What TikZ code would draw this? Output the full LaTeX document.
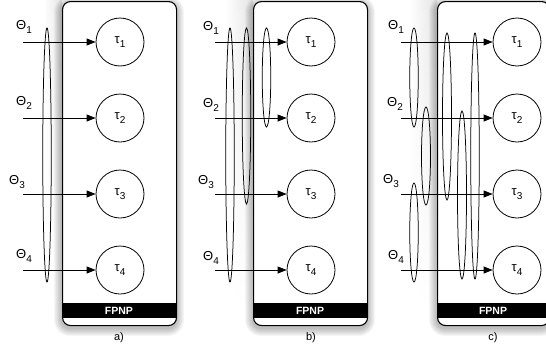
\documentclass[tikz,border=0pt]{standalone}
\usepackage{fontspec}
\setmainfont{Liberation Sans}
\usetikzlibrary{arrows.meta,shapes.geometric,fadings}
\tikzfading[name=fadelow, top color=transparent!0, bottom color=transparent!100]
\newcommand\mylbl[2]{#1\raisebox{-0.35em}{\fontsize{10pt}{11pt}\selectfont #2}}
\begin{document}
\begin{tikzpicture}[x=1pt,y=-1pt,
  panel/.style={draw=black, line width=1.1pt, fill=white, rounded corners=8pt, minimum width=114pt, minimum height=324pt, anchor=north west, inner sep=0pt},
  bar/.style={fill=black, text=white, minimum width=114pt, minimum height=15pt, inner sep=0pt, font=\fontsize{10.5}{11}\selectfont\bfseries},
  task/.style={circle, draw, line width=0.8pt, minimum size=48pt, inner sep=0pt, font=\fontsize{13}{15}\selectfont},
  par/.style={font=\fontsize{13}{15}\selectfont, inner sep=0pt},
  flow/.style={-{Triangle[length=9pt,width=7pt]}, line width=0.8pt},
  grp/.style={ellipse, draw, line width=0.75pt, inner sep=0pt},
  caption/.style={font=\fontsize{11}{13}\selectfont, inner sep=0pt},
  shadowlayer/.style={fill=black, opacity=0.035}
]
\useasboundingbox (0,0) rectangle (546,351);

% ---------- shadows ----------
\foreach \L/\W/\G in {62/114/18, 253/114/28, 437/112/28} {
  \shade[left color=white, right color=black!11, path fading=fadelow] (\L-\G,0) rectangle (\L,310);
  \foreach \k in {1,...,8} {
    \fill[shadowlayer, rounded corners=8+\k] (\L-\k,1-\k+3) rectangle (\L+\W+\k,325+\k+3);
  }
}

% ---------- boxes ----------
\node[panel] (boxa) at (62,1) {};
\node[panel] (boxb) at (253,1) {};
\node[panel, minimum width=112pt] (boxc) at (437,1) {};
\node[bar] (bara) at (119,310.5) {FPNP};
\node[bar] (barb) at (310,310.5) {FPNP};
\node[bar, minimum width=112pt] (barc) at (493,310.5) {FPNP};
\node[caption] (capa) at (119,338) {a)};
\node[caption] (capb) at (311,338) {b)};
\node[caption] (capc) at (493,338) {c)};

% ---------- tasks and arrows ----------
\foreach \i/\y in {1/42,2/118,3/194,4/270} {
  \node[task] (a\i) at (120,\y) {\mylbl{τ}{\i}};
  \coordinate (as\i) at (23,\y);
  \draw[flow] (as\i) -- (a\i);
  \node[task] (b\i) at (311,\y) {\mylbl{τ}{\i}};
  \coordinate (bs\i) at (215,\y);
  \draw[flow] (bs\i) -- (b\i);
  \node[task] (c\i) at (517,\y) {\mylbl{τ}{\i}};
  \coordinate (cs\i) at (401,\y);
  \draw[flow] (cs\i) -- (c\i);
}

% ---------- parameter labels ----------
\node[par] (pa1) at (24,27) {\mylbl{Θ}{1}};
\node[par] (pa2) at (24,103) {\mylbl{Θ}{2}};
\node[par] (pa3) at (17,182) {\mylbl{Θ}{3}};
\node[par] (pa4) at (24,256) {\mylbl{Θ}{4}};
\node[par] (pb1) at (211,28) {\mylbl{Θ}{1}};
\node[par] (pb2) at (211,105) {\mylbl{Θ}{2}};
\node[par] (pb3) at (206,182) {\mylbl{Θ}{3}};
\node[par] (pb4) at (211,258) {\mylbl{Θ}{4}};
\node[par] (pc1) at (396,27) {\mylbl{Θ}{1}};
\node[par] (pc2) at (395,104) {\mylbl{Θ}{2}};
\node[par] (pc3) at (391,181) {\mylbl{Θ}{3}};
\node[par] (pc4) at (396,257) {\mylbl{Θ}{4}};

% ---------- groups ----------
\node[grp, minimum width=8.5pt, minimum height=254pt] (ga) at (47,155) {};
\node[grp, minimum width=8.5pt, minimum height=254pt] (gb1) at (230,155) {};
\node[grp, minimum width=8.5pt, minimum height=176pt] (gb2) at (246.5,116) {};
\node[grp, minimum width=8.5pt, minimum height=99pt] (gb3) at (266.5,77.5) {};
\node[grp, minimum width=8.5pt, minimum height=99pt] (gc1) at (414,77.5) {};
\node[grp, minimum width=9pt, minimum height=98pt] (gc2) at (426,156) {};
\node[grp, minimum width=8.5pt, minimum height=99pt] (gc3) at (414,232.5) {};
\node[grp, minimum width=9pt, minimum height=167pt] (gc4) at (447,116.5) {};
\node[grp, minimum width=9pt, minimum height=168pt] (gc5) at (462,195) {};
\node[grp, minimum width=8.5pt, minimum height=246pt] (gc6) at (475,156) {};
\end{tikzpicture}
\end{document}
